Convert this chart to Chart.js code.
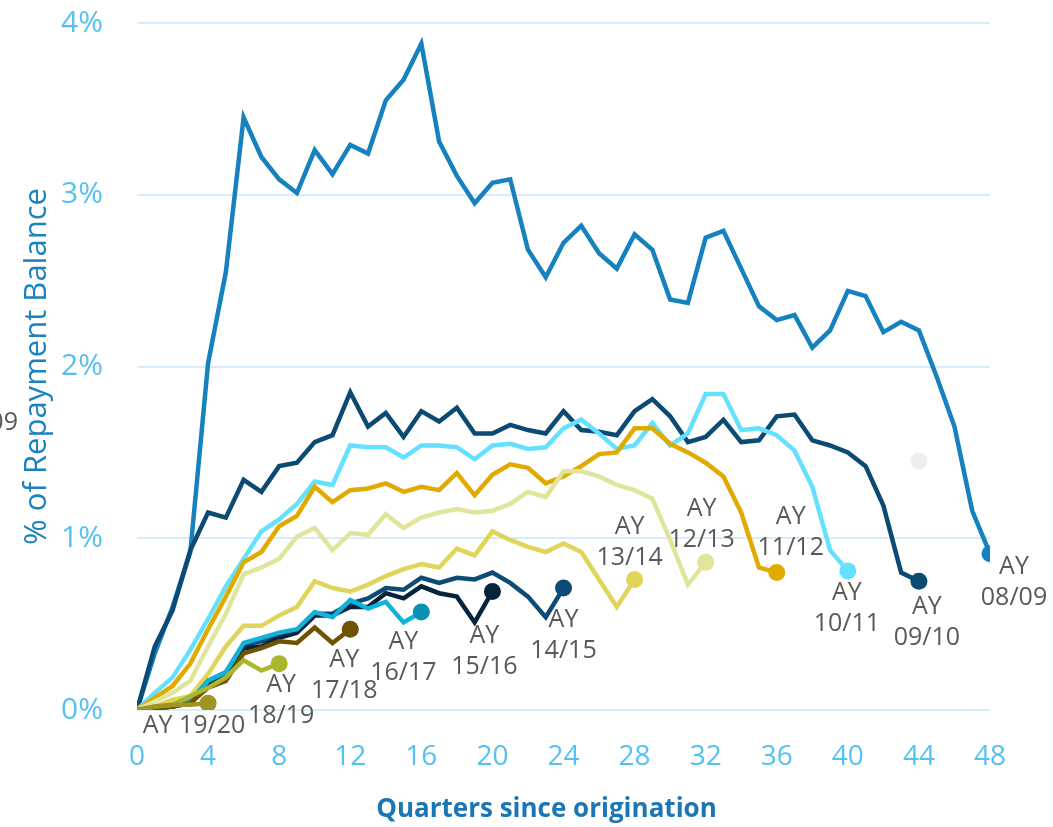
<!DOCTYPE html>
<html>
<head>
<meta charset="utf-8">
<title>Repayment balance by academic year</title>
<script src="https://cdn.jsdelivr.net/npm/chart.js@4.4.1/dist/chart.umd.min.js"></script>
<style>
  html, body { margin: 0; padding: 0; background: #fff; }
  #wrap { width: 1053px; height: 827px; position: relative; }
</style>
</head>
<body>
<div id="wrap"><canvas id="repayChart"></canvas></div>
<script>
// quarters since origination (x values)
const quarters = [0, 1, 2, 3, 4, 5, 6, 7, 8, 9, 10, 11, 12, 13, 14, 15, 16, 17, 18, 19, 20, 21, 22, 23, 24,
  25, 26, 27, 28, 29, 30, 31, 32, 33, 34, 35, 36, 37, 38, 39, 40, 41, 42, 43, 44, 45, 46, 47, 48]

const xTicks = [0, 4, 8, 12, 16, 20, 24, 28, 32, 36, 40, 44, 48]
const yTicks = [0, 1, 2, 3, 4]
const yTickLabels = ["0%", "1%", "2%", "3%", "4%"]

// % of repayment balance, one value per quarter
const ay0809 = [0, 0.33, 0.6, 0.92, 2.02, 2.55, 3.45, 3.22, 3.09, 3.01, 3.26, 3.12, 3.29, 3.24, 3.55, 3.67, 3.88,
  3.31, 3.11, 2.95, 3.07, 3.09, 2.68, 2.52, 2.72, 2.82, 2.66, 2.57, 2.77, 2.68, 2.39, 2.37, 2.75, 2.79, 2.57,
  2.35, 2.27, 2.30, 2.11, 2.21, 2.44, 2.41, 2.20, 2.26, 2.21, 1.94, 1.65, 1.16, 0.91]
const ay0910 = [0, 0.37, 0.58, 0.93, 1.15, 1.12, 1.34, 1.27, 1.42, 1.44, 1.56, 1.60, 1.85, 1.65, 1.73, 1.59, 1.74,
  1.68, 1.76, 1.61, 1.61, 1.66, 1.63, 1.61, 1.74, 1.63, 1.62, 1.60, 1.74, 1.81, 1.71, 1.56, 1.59, 1.69, 1.56,
  1.57, 1.71, 1.72, 1.57, 1.54, 1.50, 1.42, 1.19, 0.80, 0.75]
const ay1011 = [0, 0.10, 0.19, 0.35, 0.53, 0.72, 0.88, 1.04, 1.11, 1.20, 1.33, 1.31, 1.54, 1.53, 1.53, 1.47, 1.54,
  1.54, 1.53, 1.46, 1.54, 1.55, 1.52, 1.53, 1.64, 1.69, 1.61, 1.52, 1.54, 1.67, 1.54, 1.61, 1.84, 1.84, 1.63,
  1.64, 1.60, 1.51, 1.30, 0.93, 0.81]
const ay1112 = [0, 0.07, 0.14, 0.27, 0.47, 0.66, 0.86, 0.92, 1.07, 1.13, 1.30, 1.21, 1.28, 1.29, 1.32, 1.27, 1.30,
  1.28, 1.38, 1.25, 1.37, 1.43, 1.41, 1.32, 1.36, 1.42, 1.49, 1.50, 1.64, 1.64, 1.55, 1.50, 1.44, 1.36, 1.15,
  0.83, 0.80]
const ay1213 = [0, 0.05, 0.10, 0.17, 0.37, 0.56, 0.79, 0.83, 0.88, 1.01, 1.06, 0.93, 1.03, 1.02, 1.14, 1.06, 1.12,
  1.15, 1.17, 1.15, 1.16, 1.20, 1.27, 1.24, 1.39, 1.39, 1.36, 1.31, 1.28, 1.23, 0.99, 0.73, 0.86]
const ay1314 = [0, 0.02, 0.06, 0.08, 0.21, 0.37, 0.49, 0.49, 0.55, 0.60, 0.75, 0.71, 0.69, 0.73, 0.78, 0.82, 0.85,
  0.83, 0.94, 0.90, 1.04, 0.99, 0.95, 0.92, 0.97, 0.92, 0.76, 0.60, 0.76]
const ay1415 = [0, 0.01, 0.02, 0.05, 0.17, 0.22, 0.38, 0.40, 0.43, 0.46, 0.56, 0.56, 0.62, 0.65, 0.71, 0.70, 0.77,
  0.74, 0.77, 0.76, 0.80, 0.74, 0.66, 0.54, 0.71]
const ay1516 = [0, 0.01, 0.02, 0.04, 0.15, 0.20, 0.36, 0.37, 0.42, 0.45, 0.55, 0.55, 0.60, 0.60, 0.68, 0.65, 0.72,
  0.68, 0.66, 0.51, 0.69]
const ay1617 = [0, 0.01, 0.02, 0.05, 0.17, 0.22, 0.39, 0.42, 0.45, 0.47, 0.57, 0.54, 0.64, 0.59, 0.63, 0.51, 0.57]
const ay1718 = [0, 0.01, 0.02, 0.04, 0.13, 0.17, 0.33, 0.36, 0.40, 0.39, 0.48, 0.39, 0.47]
const ay1819 = [0, 0.02, 0.03, 0.08, 0.13, 0.19, 0.29, 0.23, 0.27]
const ay1920 = [0, 0.02, 0.03, 0.03, 0.04]

// faded leftover marker in the picture
const ghostPoint = { x: 44, y: 1.45 }

// newest first so the newer cohorts sit on top
const cohorts = [
  { year: "19/20", values: ay1920, color: "#9f9424" },
  { year: "18/19", values: ay1819, color: "#aab62e" },
  { year: "17/18", values: ay1718, color: "#6e5300" },
  { year: "16/17", values: ay1617, color: "#10b2da", dot: "#0891b2" },
  { year: "15/16", values: ay1516, color: "#05233b" },
  { year: "14/15", values: ay1415, color: "#0c4b76" },
  { year: "13/14", values: ay1314, color: "#e0d55a" },
  { year: "12/13", values: ay1213, color: "#e0e59b" },
  { year: "11/12", values: ay1112, color: "#e0aa00" },
  { year: "10/11", values: ay1011, color: "#66e0ff" },
  { year: "09/10", values: ay0910, color: "#0b4a72" },
  { year: "08/09", values: ay0809, color: "#1581bf" }
]

// where each end label sits relative to its end marker (px): dx, dy of first line
const labelOffsets = {
  "08/09": [24, 13],
  "09/10": [8, 26],
  "10/11": [-1, 22],
  "11/12": [14, -56],
  "12/13": [-4, -53],
  "13/14": [-5, -53],
  "14/15": [0, 32],
  "15/16": [-8, 44],
  "16/17": [-18, 30],
  "17/18": [-6, 31],
  "18/19": [2, 21],
  "19/20": [-14, 23, true]
}

const endLabels = {
  id: "endLabels",
  afterDatasetsDraw(chart) {
    const ctx = chart.ctx
    const area = chart.chartArea
    ctx.save()
    ctx.font = "25px 'Open Sans'"
    ctx.fillStyle = "#595959"
    ctx.textAlign = "center"
    ctx.textBaseline = "middle"
    chart.data.datasets.forEach((ds, i) => {
      if (!ds.year) return
      const pts = chart.getDatasetMeta(i).data
      const end = pts[pts.length - 1]
      const [dx, dy, oneLine] = labelOffsets[ds.year]
      if (oneLine) {
        ctx.fillText("AY " + ds.year, end.x + dx, end.y + dy)
      } else {
        ctx.fillText("AY", end.x + dx, end.y + dy)
        ctx.fillText(ds.year, end.x + dx, end.y + dy + 31)
      }
    })
    // clipped label remnant at the left edge
    ctx.textAlign = "right"
    ctx.fillText("08/09", chart.scales.x.getPixelForValue(-6.7), chart.scales.y.getPixelForValue(1.67))

    // x axis title, sits a little left of the plot centre
    ctx.textAlign = "center"
    ctx.font = "bold 26px 'Open Sans'"
    ctx.fillStyle = "#1a76b4"
    ctx.fillText("Quarters since origination", (area.left + area.right) / 2 - 17, chart.height - 17)
    ctx.restore()
  }
}

const datasets = cohorts.map(c => ({
  label: "AY " + c.year,
  year: c.year,
  data: c.values.map((v, i) => ({ x: quarters[i], y: v })),
  borderColor: c.color,
  backgroundColor: c.dot || c.color,
  borderWidth: 4.5,
  pointRadius: ctx => (ctx.dataIndex === c.values.length - 1 ? 8.5 : 0),
  pointBorderWidth: 0,
  pointHoverRadius: 0,
  fill: false,
  tension: 0
}))

datasets.push({
  label: "ghost",
  data: [ghostPoint],
  showLine: false,
  pointRadius: 8.5,
  pointBorderWidth: 0,
  backgroundColor: "#eeeeee"
})

Chart.defaults.font.family = "'Open Sans', 'DejaVu Sans', sans-serif"

new Chart(document.getElementById("repayChart"), {
  type: "line",
  data: { datasets: datasets },
  plugins: [endLabels],
  options: {
    responsive: true,
    maintainAspectRatio: false,
    animation: false,
    events: [],
    layout: { padding: { top: 23, right: 63, bottom: 0, left: 0 } },
    plugins: {
      legend: { display: false },
      tooltip: { enabled: false }
    },
    scales: {
      x: {
        type: "linear",
        min: 0,
        max: 48,
        afterFit: s => {
          s.height = 117
          s.paddingLeft = 0
          s.paddingRight = 0
        },
        afterBuildTicks: s => { s.ticks = xTicks.map(v => ({ value: v })) },
        grid: { display: false },
        border: { display: false },
        ticks: {
          padding: 22,
          color: "#55c1f2",
          font: { size: 28 },
          maxRotation: 0,
          autoSkip: false
        }
      },
      y: {
        min: 0,
        max: 4,
        afterFit: s => {
          s.width = 137
          s.paddingTop = 0
          s.paddingBottom = 0
        },
        afterBuildTicks: s => { s.ticks = yTicks.map(v => ({ value: v })) },
        grid: { color: "#d8edfa", lineWidth: 2, drawTicks: false },
        border: { display: false },
        ticks: {
          padding: 34,
          color: "#55c1f2",
          font: { size: 30 },
          callback: (v, i) => yTickLabels[i]
        },
        title: {
          display: true,
          text: "% of Repayment Balance",
          color: "#1a82c0",
          font: { size: 31 },
          padding: { top: 19, bottom: 0 }
        }
      }
    }
  }
})
</script>
</body>
</html>
